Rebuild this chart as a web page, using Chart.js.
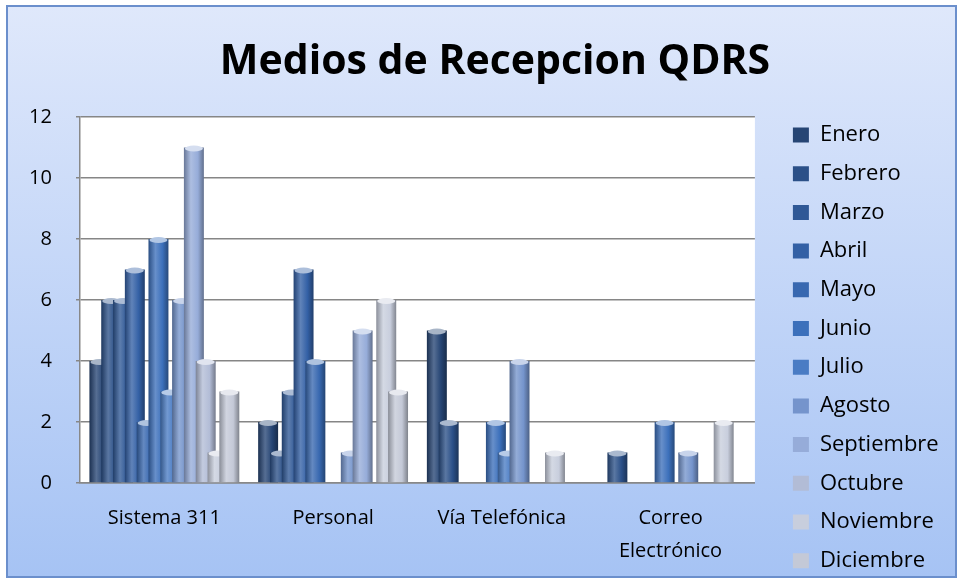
<!DOCTYPE html>
<html>
<head>
<meta charset="utf-8">
<script src="https://cdn.jsdelivr.net/npm/chart.js@4.4.0/dist/chart.umd.min.js"></script>
<style>
  html, body { margin: 0; padding: 0; background: #fff; }
  #wrap { position: relative; width: 963px; height: 584px; }
  #frame { position: absolute; left: 6px; top: 5px; width: 947px; height: 569px;
           border: 2px solid #6b8fcc; background: linear-gradient(#dfe8fb, #a6c3f4); }
  canvas { position: absolute; left: 0; top: 0; }
</style>
</head>
<body>
<div id="wrap"><div id="frame"></div><canvas id="chart" width="963" height="584"></canvas></div>
<script>
// categories and months
const categories = ['Sistema 311', 'Personal', 'Vía Telefónica', ['Correo', 'Electrónico']];
const months = ['Enero', 'Febrero', 'Marzo', 'Abril', 'Mayo', 'Junio', 'Julio',
                'Agosto', 'Septiembre', 'Octubre', 'Noviembre', 'Diciembre'];

// values per category, one per month (Enero..Diciembre)
const sistema311    = [4, 6, 6, 7, 2, 8, 3, 6, 11, 4, 1, 3];
const personal      = [2, 1, 3, 7, 4, 0, 0, 1, 5, 0, 6, 3];
const viaTelefonica = [5, 2, 0, 0, 0, 2, 1, 4, 0, 0, 1, 0];
const correo        = [0, 1, 0, 0, 0, 2, 0, 1, 0, 0, 2, 0];

const yTicks = [0, 2, 4, 6, 8, 10, 12];

const colors = ['#264574', '#2b5088', '#2f5896', '#3360a5', '#3868b0', '#3c70bb',
                '#4a7cc4', '#7594cc', '#96acd9', '#b2bcd6', '#c8cedd', '#c4c9d7'];

function shade(hex, amt) {
  const n = parseInt(hex.slice(1), 16);
  let r = n >> 16, g = (n >> 8) & 255, b = n & 255;
  const t = amt < 0 ? 0 : 255, p = Math.abs(amt);
  r = Math.round(r + (t - r) * p); g = Math.round(g + (t - g) * p); b = Math.round(b + (t - b) * p);
  return `rgb(${r},${g},${b})`;
}

// white plot area
const plotBg = {
  id: 'plotBg',
  beforeDraw(chart) {
    const {ctx, chartArea: a} = chart;
    ctx.save();
    ctx.fillStyle = '#ffffff';
    ctx.fillRect(a.left, a.top, a.width, a.height);
    ctx.restore();
  }
};

// draw bars left to right so later months sit in front, with cylinder shading
const cylinders = {
  id: 'cylinders',
  beforeDatasetDraw() { return false; },
  afterDatasetsDraw(chart) {
    const {ctx, chartArea: a} = chart;
    ctx.save();
    ctx.beginPath();
    ctx.rect(a.left, a.top - 6, a.width, a.height + 6);
    ctx.clip();
    chart.data.datasets.forEach((ds, i) => {
      const meta = chart.getDatasetMeta(i);
      const c = colors[i];
      meta.data.forEach((bar, j) => {
        if (!ds.data[j]) return;
        const {x, y, width} = bar.getProps(['x', 'y', 'width'], true);
        const g = ctx.createLinearGradient(x - width / 2, 0, x + width / 2, 0);
        g.addColorStop(0, shade(c, -0.3));
        g.addColorStop(0.35, shade(c, 0.22));
        g.addColorStop(0.7, c);
        g.addColorStop(1, shade(c, -0.35));
        const saved = bar.options;
        bar.options = Object.assign({}, saved, {backgroundColor: g});
        bar.draw(ctx);
        bar.options = saved;
        ctx.fillStyle = shade(c, 0.6);
        ctx.beginPath();
        ctx.ellipse(x, y + 1, width / 2 - 1, 3, 0, 0, Math.PI * 2);
        ctx.fill();
      });
    });
    ctx.restore();
  }
};

const datasets = months.map((m, i) => ({
  label: m,
  data: [sistema311[i], personal[i], viaTelefonica[i], correo[i]],
  backgroundColor: colors[i],
  borderWidth: 0,
  categoryPercentage: 0.84,
  barPercentage: 1.69
}));

Chart.defaults.font.family = '"Open Sans", sans-serif';
Chart.defaults.color = '#000';

new Chart(document.getElementById('chart'), {
  type: 'bar',
  data: { labels: categories, datasets: datasets },
  options: {
    responsive: false,
    animation: false,
    layout: { padding: { left: 41.3, right: 14.3, top: 0, bottom: -4.4 } },
    plugins: {
      title: {
        display: true,
        text: 'Medios de Recepcion QDRS',
        font: { size: 41, weight: 'bold' },
        color: '#000',
        padding: { top: 37.9, bottom: 29.9 }
      },
      legend: {
        position: 'right',
        align: 'end',
        labels: {
          boxWidth: 16,
          boxHeight: 15,
          padding: 16.7,
          font: { size: 22 },
          color: '#000'
        }
      },
      tooltip: { enabled: false }
    },
    scales: {
      x: {
        grid: { display: false },
        border: { color: '#888', width: 1.5 },
        ticks: { font: { size: 20, lineHeight: 1.65 }, padding: 11, maxRotation: 0, autoSkip: false },
        afterFit(s) { s.height = 105.4; }
      },
      y: {
        min: 0,
        max: 12,
        afterBuildTicks(s) { s.ticks = yTicks.map(v => ({ value: v })); },
        grid: { color: '#868686', lineWidth: 1.5, tickLength: 4, tickColor: '#868686' },
        border: { color: '#888', width: 1.5 },
        ticks: { font: { size: 20 }, mirror: true, crossAlign: 'far', padding: -51 },
        afterFit(s) { s.width = 38.7; }
      },
      // empty spacer between plot and legend
      yRight: {
        position: 'right',
        display: false,
        afterFit(s) { s.width = 21.3; }
      }
    }
  },
  plugins: [plotBg, cylinders]
});
</script>
</body>
</html>
